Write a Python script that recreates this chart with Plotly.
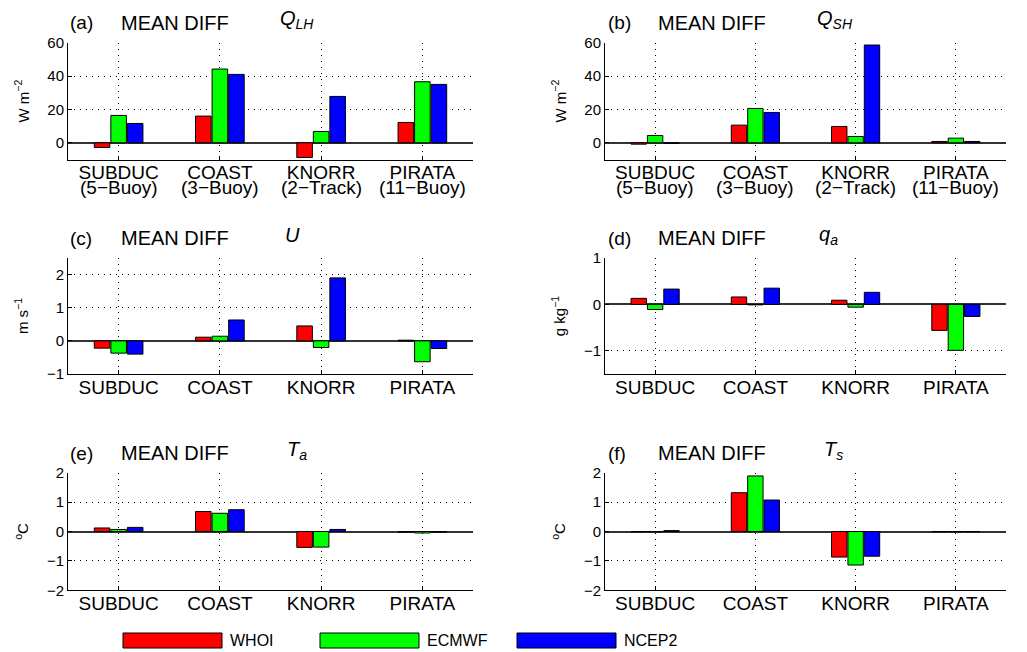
import plotly.graph_objects as go

# ---------------- data ----------------
categories = ["SUBDUC", "COAST", "KNORR", "PIRATA"]
platforms = ["(5−Buoy)", "(3−Buoy)", "(2−Track)", "(11−Buoy)"]
products = ["WHOI", "ECMWF", "NCEP2"]
colors = ["#ff0000", "#00ff00", "#0000ff"]

qlh_whoi = [-2.8, 16.0, -8.8, 12.2]
qlh_ecmwf = [16.4, 44.2, 6.8, 36.6]
qlh_ncep2 = [11.6, 41.0, 27.8, 35.0]

qsh_whoi = [-0.8, 10.6, 9.8, 0.8]
qsh_ecmwf = [4.4, 20.6, 3.8, 2.8]
qsh_ncep2 = [-0.3, 18.2, 58.6, 0.8]

u_whoi = [-0.22, 0.11, 0.45, 0.02]
u_ecmwf = [-0.37, 0.14, -0.20, -0.63]
u_ncep2 = [-0.40, 0.63, 1.90, -0.23]

qa_whoi = [0.13, 0.16, 0.09, -0.56]
qa_ecmwf = [-0.11, -0.01, -0.06, -0.99]
qa_ncep2 = [0.33, 0.35, 0.26, -0.26]

ta_whoi = [0.12, 0.68, -0.54, -0.02]
ta_ecmwf = [0.07, 0.62, -0.53, -0.05]
ta_ncep2 = [0.14, 0.74, 0.07, -0.02]

ts_whoi = [-0.01, 1.32, -0.87, -0.01]
ts_ecmwf = [-0.01, 1.89, -1.14, -0.01]
ts_ncep2 = [0.03, 1.07, -0.84, -0.01]

panel_letters = ["(a)", "(b)", "(c)", "(d)", "(e)", "(f)"]
panel_symbols = ["<i>Q</i><sub><i>LH</i></sub>", "<i>Q</i><sub><i>SH</i></sub>",
                 "<i>U</i>", "<i>q</i><sub><i>a</i></sub>",
                 "<i>T</i><sub><i>a</i></sub>", "<i>T</i><sub><i>s</i></sub>"]
panel_units = ["W m<sup>−2</sup>", "W m<sup>−2</sup>", "m s<sup>−1</sup>",
               "g kg<sup>−1</sup>", "<sup>o</sup>C", "<sup>o</sup>C"]
panel_ranges = [[-10, 60], [-10, 60], [-1, 2.5], [-1.5, 1], [-2, 2], [-2, 2]]
panel_ticks = [[0, 20, 40, 60], [0, 20, 40, 60], [-1, 0, 1, 2], [-1, 0, 1],
               [-2, -1, 0, 1, 2], [-2, -1, 0, 1, 2]]
panel_data = [
    [qlh_whoi, qlh_ecmwf, qlh_ncep2],
    [qsh_whoi, qsh_ecmwf, qsh_ncep2],
    [u_whoi, u_ecmwf, u_ncep2],
    [qa_whoi, qa_ecmwf, qa_ncep2],
    [ta_whoi, ta_ecmwf, ta_ncep2],
    [ts_whoi, ts_ecmwf, ts_ncep2],
]
two_line_panels = [0, 1]

# ---------------- layout geometry (page pixels) ----------------
PAGE_OFF = 8                     # default body margin of the page
W, H = 1027 - PAGE_OFF, 652 - PAGE_OFF
col_px = [(68, 473), (605, 1006)]
row_px = [(42.7, 159.5), (258, 374), (472.7, 590.3)]
title_y_px = [23, 238, 453]
title_x_px = [(68, 119, 278), (606, 656, 815)]
sym_x_adj = [0, 0, 5, 2, 7, 7]


def fx(px):
    return (px - PAGE_OFF) / W


def fy(py):
    return 1 - (py - PAGE_OFF) / H


FONT = "Liberation Sans, Arial, Helvetica, sans-serif"

fig = go.Figure()
xpos = [i + 1 for i in range(len(categories))]

annotations = []
layout = {}
for p in range(6):
    r, c = divmod(p, 2)
    n = p + 1
    xa = "x" if n == 1 else f"x{n}"
    ya = "y" if n == 1 else f"y{n}"
    for k, prod in enumerate(products):
        fig.add_trace(go.Bar(
            x=xpos, y=panel_data[p][k], name=prod,
            marker=dict(color=colors[k], line=dict(color="black", width=1)),
            xaxis=xa, yaxis=ya, showlegend=False,
        ))
    x0, x1 = col_px[c]
    y0, y1 = row_px[r]
    layout["xaxis" if n == 1 else f"xaxis{n}"] = dict(
        domain=[fx(x0), fx(x1)], anchor=ya, range=[0.5, 4.5], automargin=False,
        tickvals=xpos, ticktext=categories, showline=True, linecolor="black",
        linewidth=1, ticks="inside", ticklen=4, tickcolor="black",
        ticklabelstandoff=-4,
        showgrid=True, gridcolor="black", griddash="1px,5px", gridwidth=1,
        zeroline=False, tickfont=dict(size=19, color="black", family=FONT),
    )
    layout["yaxis" if n == 1 else f"yaxis{n}"] = dict(
        domain=[fy(y1), fy(y0)], anchor=xa, range=panel_ranges[p], automargin=False,
        tickvals=panel_ticks[p], ticktext=[str(v).replace("-", "−") for v in panel_ticks[p]],
        showline=True, linecolor="black", linewidth=1,
        ticks="inside", ticklen=4, tickcolor="black",
        showgrid=True, gridcolor="black", griddash="1px,5px", gridwidth=1,
        zeroline=True, zerolinecolor="#333333", zerolinewidth=1.5,
        tickfont=dict(size=15, color="black", family=FONT),
        title=dict(text=panel_units[p], standoff=14,
                   font=dict(size=15, color="black", family=FONT)),
    )
    lx, mx, sx = title_x_px[c]
    ty = fy(title_y_px[r])
    annotations.append(dict(text=panel_letters[p], x=fx(lx), y=ty, xref="paper", yref="paper",
                            xanchor="left", yanchor="middle", showarrow=False,
                            font=dict(size=19, color="black", family=FONT)))
    annotations.append(dict(text="MEAN DIFF", x=fx(mx), y=ty, xref="paper", yref="paper",
                            xanchor="left", yanchor="middle", showarrow=False,
                            font=dict(size=20, color="black", family=FONT)))
    annotations.append(dict(text=panel_symbols[p], x=fx(sx + sym_x_adj[p]), y=ty + 3 / H,
                            xref="paper", yref="paper",
                            xanchor="left", yanchor="middle", showarrow=False,
                            font=dict(size=20, color="black", family=FONT)))
    if p in two_line_panels:
        for i, lab in enumerate(platforms):
            annotations.append(dict(text=lab, x=xpos[i], y=fy(188), xref=xa, yref="paper",
                                    xanchor="center", yanchor="middle", showarrow=False,
                                    font=dict(size=19, color="black", family=FONT)))

# ---------------- legend (drawn as boxes) ----------------
shapes = []
leg_x0 = 123
leg_step = 197
box_w = 99
for k, prod in enumerate(products):
    bx = leg_x0 + k * leg_step
    shapes.append(dict(type="rect", xref="paper", yref="paper",
                       x0=fx(bx), x1=fx(bx + box_w), y0=fy(648), y1=fy(633),
                       fillcolor=colors[k], line=dict(color="black", width=1)))
    annotations.append(dict(text=prod, x=fx(bx + box_w + 6), y=fy(640.5),
                            xref="paper", yref="paper", xanchor="left", yanchor="middle",
                            showarrow=False, font=dict(size=16, color="black", family=FONT)))

fig.update_layout(
    template="none",
    width=W, height=H, margin=dict(l=0, r=0, t=0, b=0, pad=0),
    paper_bgcolor="white", plot_bgcolor="white",
    barmode="group", bargap=0.51, bargroupgap=0.06,
    annotations=annotations, shapes=shapes,
    font=dict(family=FONT, color="black"),
    **layout,
)

fig.write_html("out.html")
